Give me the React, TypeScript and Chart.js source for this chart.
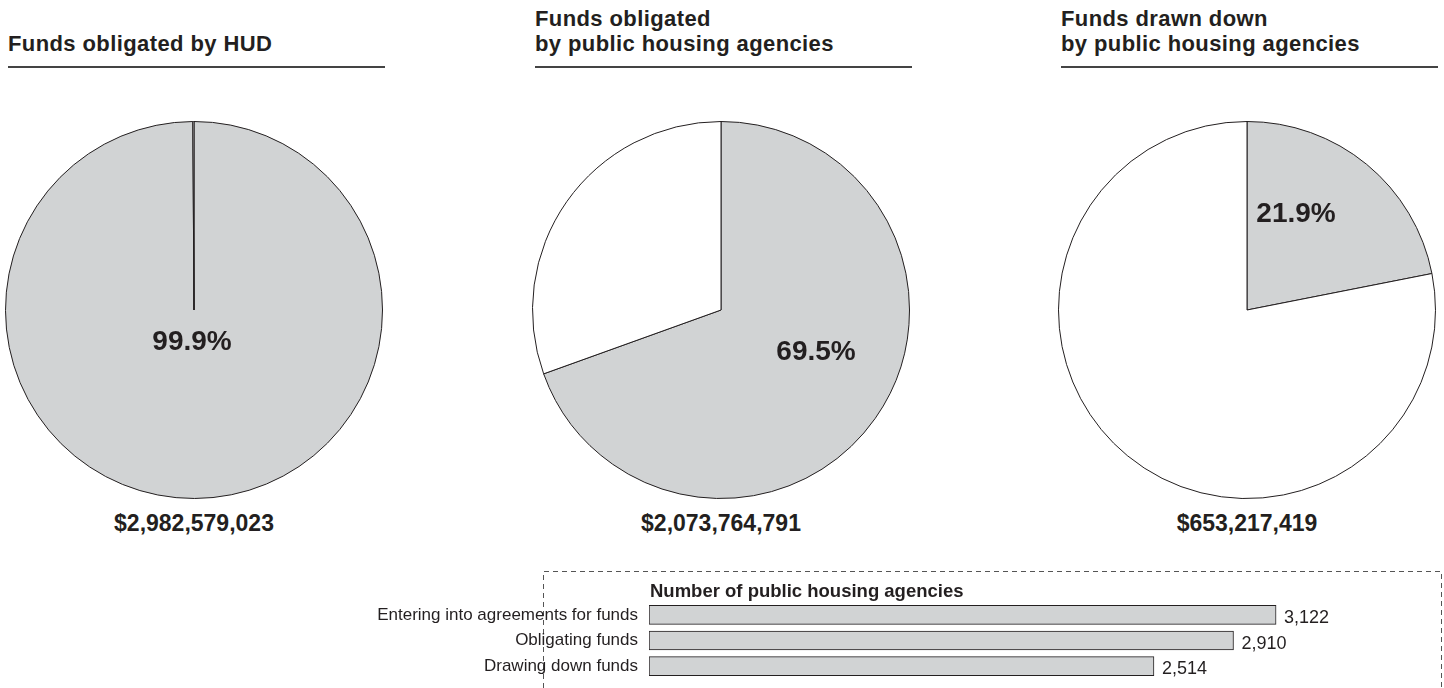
import React, { useEffect, useRef } from "react";
import { Chart, registerables } from "chart.js";

Chart.register(...registerables);

// ---------- data ----------
const pieTitles: string[][] = [
  ["Funds obligated by HUD"],
  ["Funds obligated", "by public housing agencies"],
  ["Funds drawn down", "by public housing agencies"],
];
const piePercents: number[] = [99.9, 69.5, 21.9];
const pieTotals: string[] = ["$2,982,579,023", "$2,073,764,791", "$653,217,419"];

const barTitle = "Number of public housing agencies";
const barCategories: string[] = [
  "Entering into agreements for funds",
  "Obligating funds",
  "Drawing down funds",
];
const barValues: number[] = [3122, 2910, 2514];

// ---------- style / layout ----------
const INK = "#231f20";
const GREY = "#d1d3d4";
const FONT = '"Liberation Sans", Arial, Helvetica, sans-serif';

const PIE_CY = 310;
const PIE_BOX = 378;
const pieLayout = [
  { cx: 194, titleX: 8, labelDx: -2, labelDy: 32 },
  { cx: 721, titleX: 535, labelDx: 95, labelDy: 42 },
  { cx: 1247, titleX: 1061, labelDx: 49, labelDy: -96 },
];

function PieChart({ index }: { index: number }) {
  const ref = useRef<HTMLCanvasElement | null>(null);
  useEffect(() => {
    if (!ref.current) return;
    const pct = piePercents[index];
    const lay = pieLayout[index];
    const labelPlugin = {
      id: "pctLabel",
      afterDatasetsDraw(chart: any) {
        const { ctx, chartArea } = chart;
        const cx = (chartArea.left + chartArea.right) / 2;
        const cy = (chartArea.top + chartArea.bottom) / 2;
        ctx.save();
        ctx.font = `bold 28px ${FONT}`;
        ctx.fillStyle = INK;
        ctx.textAlign = "center";
        ctx.textBaseline = "middle";
        ctx.fillText(`${pct.toFixed(1)}%`, cx + lay.labelDx, cy + lay.labelDy);
        ctx.restore();
      },
    };
    const chart = new Chart(ref.current, {
      type: "pie",
      data: {
        labels: ["Share", "Remainder"],
        datasets: [
          {
            data: [pct, +(100 - pct).toFixed(1)],
            backgroundColor: [GREY, "#ffffff"],
            borderColor: INK,
            borderWidth: 1,
          },
        ],
      },
      options: {
        responsive: false,
        animation: false,
        events: [],
        layout: { padding: 0 },
        plugins: { legend: { display: false }, tooltip: { enabled: false } },
      },
      plugins: [labelPlugin],
    });
    return () => chart.destroy();
  }, [index]);
  const lay = pieLayout[index];
  return (
    <canvas
      ref={ref}
      width={PIE_BOX}
      height={PIE_BOX}
      style={{
        position: "absolute",
        left: lay.cx - PIE_BOX / 2,
        top: PIE_CY - PIE_BOX / 2,
        width: PIE_BOX,
        height: PIE_BOX,
      }}
    />
  );
}

const BAR_LEFT = 340;
const BAR_TOP = 571;
const BAR_W = 1104;
const BAR_H = 117;
const BOX_LEFT = 203; // dashed box left edge, canvas coords (x=543 on page)
const BOX_RIGHT = 1101; // x=1441 on page

function BarChart() {
  const ref = useRef<HTMLCanvasElement | null>(null);
  useEffect(() => {
    if (!ref.current) return;
    const decor = {
      id: "decor",
      beforeDraw(chart: any) {
        const { ctx, height } = chart;
        ctx.save();
        ctx.strokeStyle = "#555555";
        ctx.lineWidth = 1;
        ctx.setLineDash([5, 4]);
        ctx.beginPath();
        ctx.moveTo(BOX_LEFT + 0.5, height);
        ctx.lineTo(BOX_LEFT + 0.5, 0.5);
        ctx.lineTo(BOX_RIGHT + 0.5, 0.5);
        ctx.lineTo(BOX_RIGHT + 0.5, height);
        ctx.stroke();
        ctx.restore();
      },
      afterDatasetsDraw(chart: any) {
        const { ctx, chartArea } = chart;
        const meta = chart.getDatasetMeta(0);
        ctx.save();
        ctx.fillStyle = INK;
        ctx.font = `bold 18.5px ${FONT}`;
        ctx.textAlign = "left";
        ctx.textBaseline = "alphabetic";
        ctx.fillText(barTitle, chartArea.left + 1, 26);
        meta.data.forEach((bar: any, i: number) => {
          ctx.font = `17px ${FONT}`;
          ctx.textAlign = "right";
          ctx.textBaseline = "middle";
          ctx.fillText(barCategories[i], chartArea.left - 11, bar.y);
          ctx.font = `18px ${FONT}`;
          ctx.textAlign = "left";
          ctx.textBaseline = "alphabetic";
          ctx.fillText(barValues[i].toLocaleString("en-US"), bar.x + 8, bar.y + 8);
        });
        ctx.restore();
      },
    };
    const chart = new Chart(ref.current, {
      type: "bar",
      data: {
        labels: barCategories,
        datasets: [
          {
            data: barValues,
            backgroundColor: GREY,
            borderColor: INK,
            borderWidth: 1,
            borderSkipped: false,
            barThickness: 19,
          },
        ],
      },
      options: {
        indexAxis: "y",
        responsive: false,
        animation: false,
        events: [],
        layout: { padding: { left: 309, right: 92, top: 31, bottom: 9 } },
        scales: {
          x: { display: false, min: 0, max: 3500 },
          y: { display: false },
        },
        plugins: { legend: { display: false }, tooltip: { enabled: false } },
      },
      plugins: [decor],
    });
    return () => chart.destroy();
  }, []);
  return (
    <canvas
      ref={ref}
      width={BAR_W}
      height={BAR_H}
      style={{ position: "absolute", left: BAR_LEFT, top: BAR_TOP, width: BAR_W, height: BAR_H }}
    />
  );
}

export default function App() {
  return (
    <div
      style={{
        position: "absolute",
        left: 0,
        top: 0,
        width: 1444,
        height: 688,
        overflow: "hidden",
        background: "#ffffff",
        fontFamily: FONT,
        color: INK,
      }}
    >
      {pieLayout.map((lay, i) => (
        <React.Fragment key={i}>
          <div
            style={{
              position: "absolute",
              left: lay.titleX,
              bottom: 688 - 56,
              fontWeight: "bold",
              fontSize: 22,
              letterSpacing: "0.4px",
              lineHeight: "25px",
              whiteSpace: "nowrap",
            }}
          >
            {pieTitles[i].map((t, j) => (
              <div key={j}>{t}</div>
            ))}
          </div>
          <div
            style={{
              position: "absolute",
              left: lay.titleX,
              top: 66,
              width: 377,
              height: 2,
              background: "#444444",
            }}
          />
          <div
            style={{
              position: "absolute",
              left: lay.cx - 150,
              width: 300,
              top: 509,
              textAlign: "center",
              fontWeight: "bold",
              fontSize: 23,
              lineHeight: "28px",
            }}
          >
            {pieTotals[i]}
          </div>
          <PieChart index={i} />
        </React.Fragment>
      ))}
      <BarChart />
    </div>
  );
}
